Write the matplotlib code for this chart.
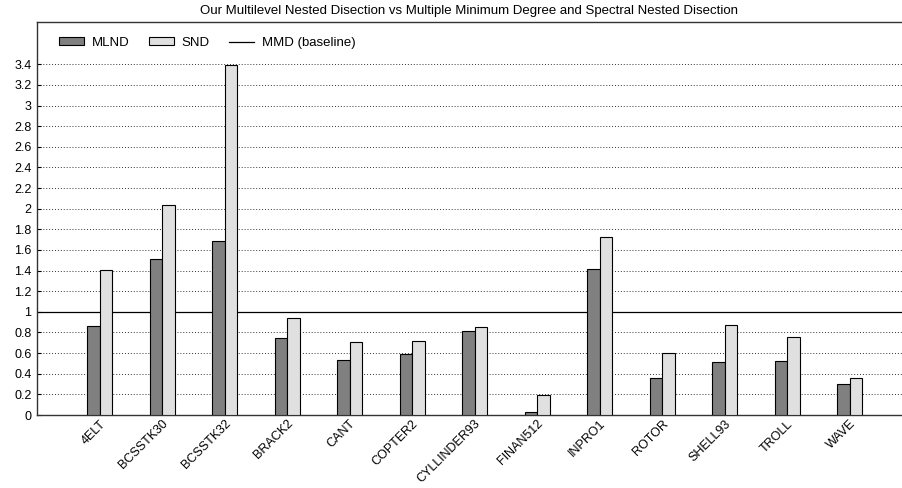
import matplotlib
matplotlib.use("Agg")
import matplotlib.pyplot as plt
import numpy as np

categories = ["4ELT", "BCSSTK30", "BCSSTK32", "BRACK2", "CANT", "COPTER2",
              "CYLLINDER93", "FINAN512", "INPRO1", "ROTOR", "SHELL93", "TROLL", "WAVE"]
mlnd = [0.86, 1.51, 1.69, 0.75, 0.53, 0.59, 0.81, 0.03, 1.42, 0.36, 0.51, 0.52, 0.30]
snd = [1.41, 2.04, 3.39, 0.94, 0.71, 0.72, 0.85, 0.19, 1.73, 0.60, 0.87, 0.76, 0.36]
yticks = [round(0.2 * i, 1) for i in range(18)]
ytick_labels = ["0", "0.2", "0.4", "0.6", "0.8", "1", "1.2", "1.4", "1.6", "1.8",
                "2", "2.2", "2.4", "2.6", "2.8", "3", "3.2", "3.4"]
baseline = 1.0

plt.rcParams['font.family'] = ['Liberation Sans', 'DejaVu Sans']
plt.rcParams['font.size'] = 9

fig = plt.figure(figsize=(9.02, 4.88), dpi=100)
ax = fig.add_axes([37 / 902, 1 - 415 / 488, 865 / 902, (415 - 22) / 488])

x = np.arange(len(categories))
w = 0.2
b1 = ax.bar(x - w / 2, mlnd, width=w, color="#808080", edgecolor="black", linewidth=0.8,
            label="MLND", zorder=3)
b2 = ax.bar(x + w / 2, snd, width=w, color="#e0e0e0", edgecolor="black", linewidth=0.8,
            label="SND", zorder=3)
ln = ax.axhline(baseline, color="black", linewidth=0.9, label="MMD (baseline)", zorder=2)

ax.set_xlim(-1, 12.84)
ax.set_ylim(0, 3.81)
ax.set_yticks(yticks)
ax.set_yticklabels(ytick_labels)
ax.set_xticks(x)
ax.set_xticklabels(categories, rotation=45, ha="right", rotation_mode="anchor")
ax.tick_params(axis="x", length=0, pad=2, labelsize=9)
ax.tick_params(axis="y", direction="in", length=3, pad=4, labelsize=9)
ax.yaxis.grid(True, linestyle=(0, (1, 2)), color="#333333", linewidth=0.7, zorder=0)
ax.set_axisbelow(True)

ax.spines["right"].set_visible(False)
for s in ["left", "top", "bottom"]:
    ax.spines[s].set_color("#333333")
    ax.spines[s].set_linewidth(1.0)

ax.set_title("Our Multilevel Nested Disection vs Multiple Minimum Degree and Spectral Nested Disection",
             fontsize=9.5, pad=6)
ax.legend([b1, b2, ln], ["MLND", "SND", "MMD (baseline)"],
          loc="upper left", ncol=3, frameon=False, bbox_to_anchor=(0.0116, 0.992),
          handlelength=1.9, handleheight=0.55, columnspacing=1.45, handletextpad=0.6,
          fontsize=9.5)

fig.savefig("out.png", dpi=100)
